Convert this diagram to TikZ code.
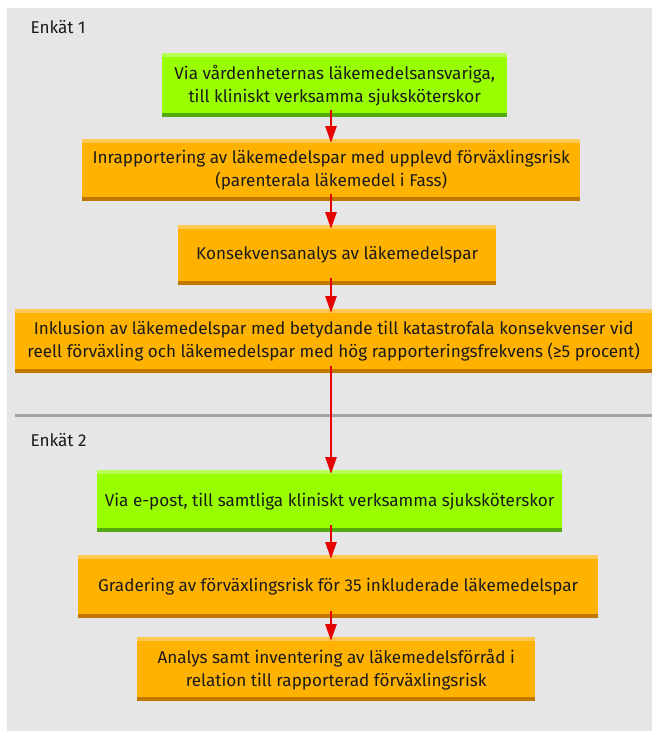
\documentclass[tikz,border=0pt]{standalone}
\usepackage{fontspec}
\setmainfont{Fira Sans}
\usetikzlibrary{arrows.meta,positioning}
\definecolor{bggray}{HTML}{E6E6E6}
\definecolor{sepgray}{HTML}{A3A3A3}
\definecolor{limemid}{HTML}{99FF00}
\definecolor{limetop}{HTML}{B8FF55}
\definecolor{limebot}{HTML}{55AA11}
\definecolor{ambmid}{HTML}{FFB300}
\definecolor{ambtop}{HTML}{FFC850}
\definecolor{ambbot}{HTML}{BF7700}
\definecolor{arrred}{HTML}{E60000}
\definecolor{txt}{HTML}{1A1A1A}

\begin{document}
\begin{tikzpicture}[x=1pt,y=-1pt,>={Triangle[width=11pt,length=17pt]}]
    \tikzset{
        lbox/.style args={#1/#2/#3}{rectangle, anchor=north west, inner sep=0pt,
            fill=#1, text=txt, align=center, font=\fontsize{17.1}{23}\selectfont,
            path picture={
                \fill[#2] (path picture bounding box.north west) rectangle ([yshift=-4pt]path picture bounding box.north east);
                \fill[#3] (path picture bounding box.south west) rectangle ([yshift=4pt]path picture bounding box.south east);
            }},
        gbox/.style={lbox=limemid/limetop/limebot},
        obox/.style={lbox=ambmid/ambtop/ambbot},
        a/.style={->, arrred, line width=2.5pt},
        head/.style={anchor=base west, text=txt, font=\fontsize{17.1}{20}\selectfont},
    }
    \useasboundingbox (0,0) rectangle (652,731);
    \fill[bggray] (7,8) rectangle (652,731);

    \node[head] (e1) at (27,33) {Enkät 1};
    \node[head] (e2) at (27,446) {Enkät 2};
    \draw[sepgray, line width=3pt] (15,415) -- (652,415);

    % Enkät 1
    \node[gbox, minimum width=345pt, minimum height=64pt] (b1) at (162,53)
        {Via vårdenheternas läkemedelsansvariga,\\ till kliniskt verksamma sjuksköterskor};
    \node[obox, minimum width=498pt, minimum height=62pt] (b2) at (82,139)
        {Inrapportering av läkemedelspar med upplevd förväxlingsrisk\\ (parenterala läkemedel i Fass)};
    \node[obox, minimum width=318pt, minimum height=60pt] (b3) at (178,225)
        {Konsekvensanalys av läkemedelspar};
    \node[obox, minimum width=637pt, minimum height=64pt] (b4) at (15,309)
        {Inklusion av läkemedelspar med betydande till katastrofala konsekvenser vid\\ reell förväxling och läkemedelspar med hög rapporteringsfrekvens (≥5 procent)};

    % Enkät 2
    \node[gbox, minimum width=465pt, minimum height=62pt] (b5) at (97,470)
        {Via e-post, till samtliga kliniskt verksamma sjuksköterskor};
    \node[obox, minimum width=520pt, minimum height=63pt] (b6) at (78,555)
        {Gradering av förväxlingsrisk för 35 inkluderade läkemedelspar};
    \node[obox, minimum width=398pt, minimum height=64pt] (b7) at (137,637)
        {Analys samt inventering av läkemedelsförråd i\\ relation till rapporterad förväxlingsrisk};

    \coordinate (ax) at (331,0);
    \foreach \s/\t in {b1/b2, b2/b3, b3/b4, b4/b5, b5/b6, b6/b7}
        \draw[a] ([yshift=7pt]\s.south -| ax) -- ([yshift=-4pt]\t.north -| ax);
\end{tikzpicture}
\end{document}
